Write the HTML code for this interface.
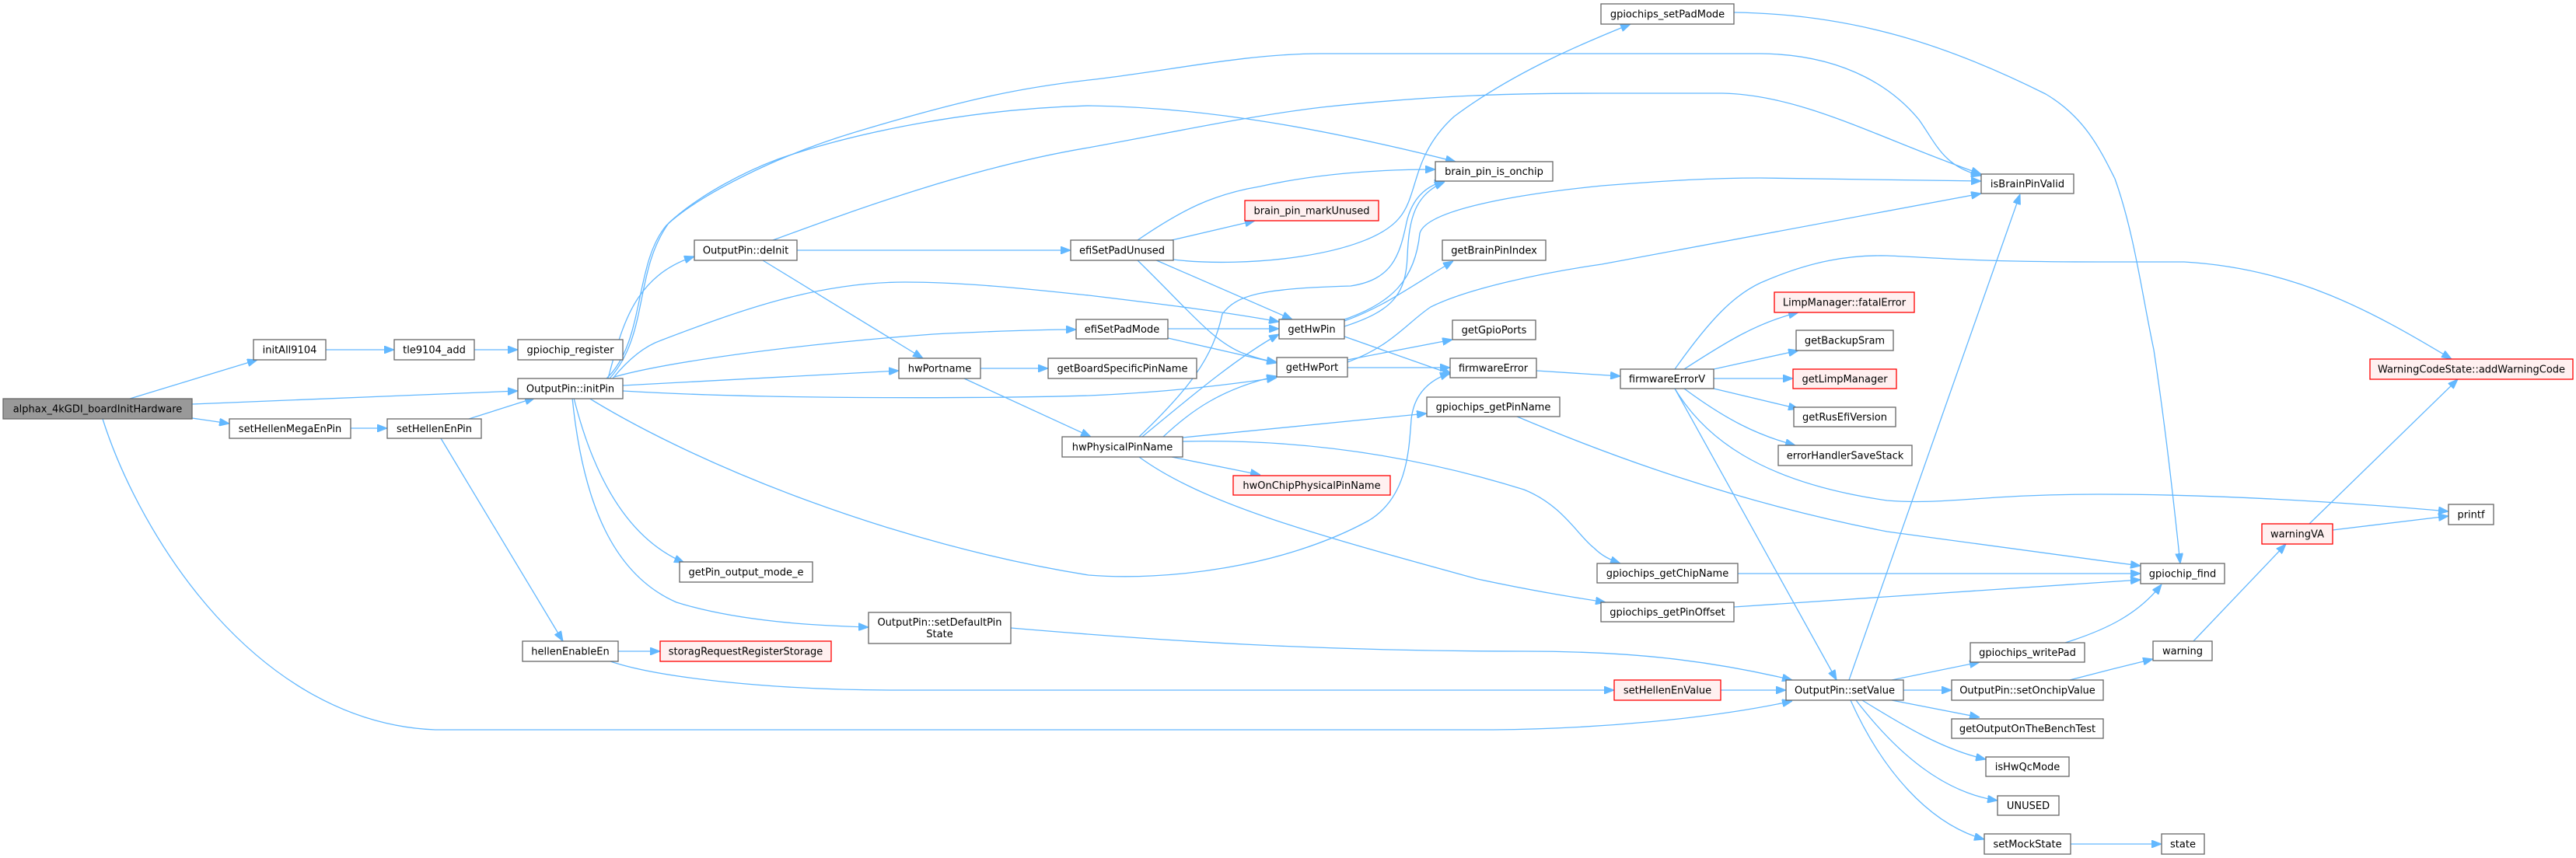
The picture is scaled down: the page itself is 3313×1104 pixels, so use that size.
<!DOCTYPE html>
<html><head><meta charset="utf-8"><style>
html,body{margin:0;padding:0;background:#fff;}
svg{display:block;}
text{font-family:"DejaVu Sans","Liberation Sans",sans-serif;font-size:13px;fill:#000;text-anchor:middle;}
.e{fill:none;stroke:#63b8ff;stroke-width:1.3;marker-end:url(#a);}
.n{fill:#fff;stroke:#666;stroke-width:1.3;}
.r{fill:#fff0f0;stroke:#ff0000;stroke-width:1.3;}
.g{fill:#999;stroke:#666;stroke-width:1.3;}
</style></head><body>
<svg width="3313" height="1104" viewBox="0 0 3313 1104" xmlns="http://www.w3.org/2000/svg">
<defs><marker id="a" markerWidth="13" markerHeight="10" refX="13" refY="5" orient="auto" markerUnits="userSpaceOnUse"><path d="M0,0L13,5L0,10z" fill="#63b8ff" stroke="#63b8ff" stroke-width="1"/></marker></defs>
<rect width="3313" height="1104" fill="#fff"/>
<!-- edges -->
<path class="e" d="M167,513 L331,463"/>
<path class="e" d="M247,520 L666,503"/>
<path class="e" d="M247,538 L295,545"/>
<path class="e" d="M132,539 C180,690 330,930 560,939 L1920,939 C2050,938 2200,925 2305,902"/>
<path class="e" d="M419,450 L507,450"/>
<path class="e" d="M610,450 L666,450"/>
<path class="e" d="M451,551 L498,551"/>
<path class="e" d="M603,539 L688,512"/>
<path class="e" d="M567,564 L724,825"/>
<path class="e" d="M795,838 L849,838"/>
<path class="e" d="M785,851 C850,873 1000,888 1150,888 L2076,888"/>
<path class="e" d="M782,487 C800,420 815,355 893,330"/>
<path class="e" d="M780,487 C830,440 815,340 857,290 C900,250 1000,200 1100,170 C1250,125 1320,112 1400,103 C1500,92 1600,69 1700,69 L2264,69 C2380,70 2440,120 2468,154 C2490,185 2500,215 2548,226"/>
<path class="e" d="M784,487 C835,430 815,350 860,287 C900,250 960,220 1000,205 C1100,170 1250,140 1400,136 C1550,138 1700,165 1872,208"/>
<path class="e" d="M994,309 C1100,270 1250,215 1400,190 C1500,172 1600,150 1700,138 C1850,122 1950,120 2060,120 L2215,120 C2320,122 2420,180 2548,224"/>
<path class="e" d="M1025,322 L1377,322"/>
<path class="e" d="M981,335 L1187,461"/>
<path class="e" d="M790,485 C850,468 1000,445 1200,430 C1300,425 1350,424 1384,424"/>
<path class="e" d="M801,496 L1156,477"/>
<path class="e" d="M801,503 C1000,515 1300,512 1400,509 C1500,505 1580,495 1642,486"/>
<path class="e" d="M788,487 C810,460 830,445 850,438 C950,400 1050,363 1164,363 C1250,363 1350,375 1400,380 C1500,392 1580,402 1645,414"/>
<path class="e" d="M757,512 C900,600 1150,700 1400,740 C1500,748 1650,730 1760,670 C1810,640 1812,580 1815,540 C1818,510 1835,490 1865,480"/>
<path class="e" d="M738,512 C760,600 800,690 880,724"/>
<path class="e" d="M736,512 C750,650 790,740 870,775 C950,800 1050,805 1117,807"/>
<path class="e" d="M1261,474 L1348,474"/>
<path class="e" d="M1240,487 L1403,562"/>
<path class="e" d="M1463,309 C1520,270 1560,250 1620,240 C1700,222 1780,218 1846,218"/>
<path class="e" d="M1507,309 L1614,284"/>
<path class="e" d="M1509,334 C1600,345 1760,330 1800,280 C1825,250 1815,200 1870,150 C1950,90 2050,50 2097,31"/>
<path class="e" d="M1485,334 L1662,411"/>
<path class="e" d="M1462,334 C1530,400 1560,440 1600,455 C1620,462 1630,464 1642,466"/>
<path class="e" d="M1502,423 L1645,423"/>
<path class="e" d="M1502,435 L1642,467"/>
<path class="e" d="M1465,562 C1530,500 1560,460 1572,404 C1590,380 1620,371 1737,368 C1790,360 1800,330 1809,286 C1815,260 1830,240 1858,233"/>
<path class="e" d="M1469,562 C1520,520 1590,460 1645,430"/>
<path class="e" d="M1496,562 C1530,530 1570,500 1642,484"/>
<path class="e" d="M1521,563 L1835,532"/>
<path class="e" d="M1507,588 L1621,611"/>
<path class="e" d="M1521,568 C1650,565 1800,580 1960,630 C2010,650 2030,690 2050,705 C2060,715 2070,720 2084,725"/>
<path class="e" d="M1465,588 C1550,650 1700,690 1900,745 C1970,760 2020,768 2065,775"/>
<path class="e" d="M1729,420 C1790,400 1808,380 1810,330 C1812,280 1820,250 1858,234"/>
<path class="e" d="M1729,413 C1780,395 1820,365 1869,336"/>
<path class="e" d="M1729,411 C1790,390 1820,360 1826,300 C1835,270 1950,250 2060,239 C2150,232 2200,229 2264,229 L2548,233"/>
<path class="e" d="M1729,433 L1868,482"/>
<path class="e" d="M1733,463 L1868,437"/>
<path class="e" d="M1733,473 L1865,473"/>
<path class="e" d="M1733,466 C1790,445 1810,415 1840,395 C1890,370 1990,350 2060,340 L2548,249"/>
<path class="e" d="M1976,477 L2084,484"/>
<path class="e" d="M1951,536 C2020,565 2200,640 2427,684 C2550,700 2650,715 2753,728"/>
<path class="e" d="M2235,738 L2753,738"/>
<path class="e" d="M2230,781 L2753,746"/>
<path class="e" d="M1300,808 C1500,825 1700,838 1960,838 C2100,838 2200,850 2305,875"/>
<path class="e" d="M2213,888 L2297,888"/>
<path class="e" d="M2378,875 L2598,250"/>
<path class="e" d="M2154,500 L2362,875"/>
<path class="e" d="M2166,500 C2220,540 2260,560 2309,573"/>
<path class="e" d="M2154,500 C2190,560 2260,620 2427,644 C2500,650 2550,636 2700,636 C2850,636 3000,645 3149,658"/>
<path class="e" d="M2154,475 C2200,410 2230,380 2264,364 C2330,335 2380,328 2427,329 C2500,332 2540,337 2700,337 L2809,337 C2950,345 3050,400 3153,462"/>
<path class="e" d="M2166,475 C2220,440 2260,415 2313,402"/>
<path class="e" d="M2204,475 L2313,451"/>
<path class="e" d="M2204,487 L2306,487"/>
<path class="e" d="M2204,500 L2313,526"/>
<path class="e" d="M2433,875 L2546,852"/>
<path class="e" d="M2448,888 L2510,888"/>
<path class="e" d="M2433,901 L2546,923"/>
<path class="e" d="M2395,901 C2450,935 2500,965 2554,977"/>
<path class="e" d="M2387,901 C2440,970 2500,1020 2569,1030"/>
<path class="e" d="M2380,901 C2420,990 2480,1060 2552,1080"/>
<path class="e" d="M2663,1086 L2780,1086"/>
<path class="e" d="M2662,875 C2700,865 2740,855 2769,848"/>
<path class="e" d="M2656,827 C2710,810 2750,790 2780,752"/>
<path class="e" d="M2821,825 L2940,700"/>
<path class="e" d="M3000,682 L3149,664"/>
<path class="e" d="M2970,674 L3161,488"/>
<path class="e" d="M2230,16 C2387,18 2509,60 2631,121 C2680,150 2700,190 2720,230 C2745,300 2755,380 2770,450 C2785,550 2795,640 2804,725"/>
<!-- nodes -->
<rect class="g" x="4" y="513" width="243" height="26"/><text x="125.5" y="530.5">alphax_4kGDI_boardInitHardware</text>
<rect class="n" x="326" y="437" width="93" height="26"/><text x="372.5" y="454.5">initAll9104</text>
<rect class="n" x="507" y="437" width="103" height="26"/><text x="558.5" y="454.5">tle9104_add</text>
<rect class="n" x="666" y="437" width="135" height="26"/><text x="733.5" y="454.5">gpiochip_register</text>
<rect class="n" x="666" y="487" width="135" height="26"/><text x="733.5" y="504.5">OutputPin::initPin</text>
<rect class="n" x="295" y="539" width="156" height="25"/><text x="373" y="556">setHellenMegaEnPin</text>
<rect class="n" x="498" y="539" width="121" height="25"/><text x="558.5" y="556">setHellenEnPin</text>
<rect class="n" x="893" y="309" width="132" height="26"/><text x="959" y="326.5">OutputPin::deInit</text>
<rect class="n" x="1377" y="309" width="132" height="26"/><text x="1443" y="326.5">efiSetPadUnused</text>
<rect class="n" x="1156" y="461" width="105" height="26"/><text x="1208.5" y="478.5">hwPortname</text>
<rect class="n" x="1348" y="461" width="191" height="26"/><text x="1443.5" y="478.5">getBoardSpecificPinName</text>
<rect class="n" x="1384" y="411" width="118" height="25"/><text x="1443" y="428">efiSetPadMode</text>
<rect class="n" x="1366" y="562" width="155" height="26"/><text x="1443.5" y="579.5">hwPhysicalPinName</text>
<rect class="n" x="874" y="723" width="171" height="26"/><text x="959.5" y="740.5">getPin_output_mode_e</text>
<rect class="n" x="1117" y="788" width="183" height="40"/><text x="1208.5" y="805">OutputPin::setDefaultPin</text><text x="1208.5" y="820">State</text>
<rect class="n" x="672" y="825" width="123" height="26"/><text x="733.5" y="842.5">hellenEnableEn</text>
<rect class="r" x="849" y="825" width="220" height="26"/><text x="959" y="842.5">storagRequestRegisterStorage</text>
<rect class="n" x="2059" y="5" width="171" height="26"/><text x="2144.5" y="22.5">gpiochips_setPadMode</text>
<rect class="n" x="1846" y="208" width="151" height="25"/><text x="1921.5" y="225">brain_pin_is_onchip</text>
<rect class="r" x="1601" y="258" width="172" height="26"/><text x="1687" y="275.5">brain_pin_markUnused</text>
<rect class="n" x="1855" y="309" width="133" height="26"/><text x="1921.5" y="326.5">getBrainPinIndex</text>
<rect class="n" x="1645" y="411" width="84" height="25"/><text x="1687" y="428">getHwPin</text>
<rect class="n" x="1868" y="412" width="107" height="25"/><text x="1921.5" y="429">getGpioPorts</text>
<rect class="n" x="1642" y="460" width="91" height="25"/><text x="1687.5" y="477">getHwPort</text>
<rect class="n" x="1865" y="461" width="111" height="25"/><text x="1920.5" y="478">firmwareError</text>
<rect class="n" x="1835" y="511" width="171" height="25"/><text x="1920.5" y="528">gpiochips_getPinName</text>
<rect class="r" x="1586" y="612" width="202" height="25"/><text x="1687" y="629">hwOnChipPhysicalPinName</text>
<rect class="n" x="2054" y="725" width="181" height="25"/><text x="2144.5" y="742">gpiochips_getChipName</text>
<rect class="n" x="2059" y="775" width="171" height="25"/><text x="2144.5" y="792">gpiochips_getPinOffset</text>
<rect class="r" x="2076" y="875" width="137" height="26"/><text x="2144.5" y="892.5">setHellenEnValue</text>
<rect class="n" x="2297" y="875" width="151" height="26"/><text x="2372.5" y="892.5">OutputPin::setValue</text>
<rect class="n" x="2548" y="224" width="119" height="25"/><text x="2607.5" y="241">isBrainPinValid</text>
<rect class="r" x="2282" y="376" width="180" height="26"/><text x="2372" y="393.5">LimpManager::fatalError</text>
<rect class="n" x="2310" y="425" width="125" height="26"/><text x="2372.5" y="442.5">getBackupSram</text>
<rect class="n" x="2084" y="475" width="120" height="25"/><text x="2144" y="492">firmwareErrorV</text>
<rect class="r" x="2306" y="475" width="133" height="25"/><text x="2372.5" y="492">getLimpManager</text>
<rect class="n" x="2307" y="524" width="131" height="25"/><text x="2372.5" y="541">getRusEfiVersion</text>
<rect class="n" x="2287" y="573" width="172" height="26"/><text x="2373" y="590.5">errorHandlerSaveStack</text>
<rect class="n" x="2534" y="827" width="147" height="25"/><text x="2607.5" y="844">gpiochips_writePad</text>
<rect class="n" x="2510" y="875" width="195" height="26"/><text x="2607.5" y="892.5">OutputPin::setOnchipValue</text>
<rect class="n" x="2510" y="925" width="195" height="25"/><text x="2607.5" y="942">getOutputOnTheBenchTest</text>
<rect class="n" x="2554" y="974" width="107" height="25"/><text x="2607.5" y="991">isHwQcMode</text>
<rect class="n" x="2569" y="1024" width="79" height="25"/><text x="2608.5" y="1041">UNUSED</text>
<rect class="n" x="2552" y="1073" width="111" height="26"/><text x="2607.5" y="1090.5">setMockState</text>
<rect class="r" x="3048" y="462" width="261" height="26"/><text x="3178.5" y="479.5">WarningCodeState::addWarningCode</text>
<rect class="n" x="3149" y="649" width="58" height="26"/><text x="3178" y="666.5">printf</text>
<rect class="r" x="2909" y="674" width="91" height="26"/><text x="2954.5" y="691.5">warningVA</text>
<rect class="n" x="2753" y="725" width="108" height="26"/><text x="2807" y="742.5">gpiochip_find</text>
<rect class="n" x="2769" y="825" width="76" height="25"/><text x="2807" y="842">warning</text>
<rect class="n" x="2780" y="1073" width="55" height="26"/><text x="2807.5" y="1090.5">state</text>
</svg>
</body></html>
